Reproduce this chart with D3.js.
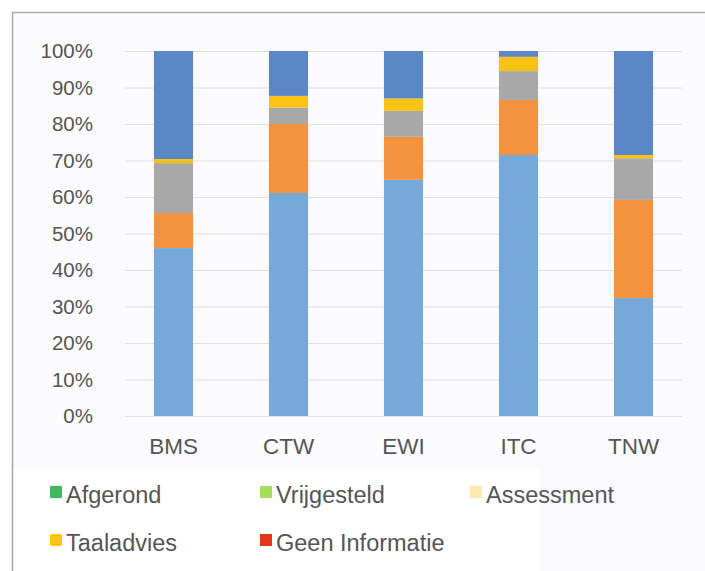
<!DOCTYPE html>
<html>
<head>
<meta charset="utf-8">
<script src="https://cdn.jsdelivr.net/npm/d3@7"></script>
<style>
  body { margin: 0; background: #fff; }
  svg text { font-family: "Liberation Sans", Arial, sans-serif; fill: #555; }
</style>
</head>
<body>
<div class="chart"></div>
<script>
// data (percent of each faculty)
var categories = ["BMS", "CTW", "EWI", "ITC", "TNW"];
var seriesNames = ["s1", "s2", "s3", "s4", "s5"];
var s1 = [46.0, 61.1, 64.7, 71.5, 32.3];
var s2 = [9.6, 18.9, 11.8, 15.1, 26.9];
var s3 = [13.7, 4.5, 7.1, 7.9, 11.4];
var s4 = [1.1, 3.2, 3.4, 3.9, 0.9];
var s5 = [29.6, 12.3, 13.0, 1.6, 28.5];
var yTicks = [0, 10, 20, 30, 40, 50, 60, 70, 80, 90, 100];
var legendNames = ["Afgerond", "Vrijgesteld", "Assessment", "Taaladvies", "Geen Informatie"];
var legendColors = ["#3dba5f", "#a8dc5c", "#fde8b0", "#fdc519", "#e2381a"];
var barColors = ["#74a9d9", "#f5923e", "#a8a8a8", "#fcc214", "#5c87c6"];

var svgWidth = 705;
var svgHeight = 571;
var margin = { top: 51, right: 23, bottom: 155, left: 125 };
var width = svgWidth - margin.left - margin.right;
var height = svgHeight - margin.top - margin.bottom;

var svg = d3.select(".chart")
  .append("svg")
  .attr("width", svgWidth)
  .attr("height", svgHeight);

// frame
svg.append("rect")
  .attr("x", 12).attr("y", 12)
  .attr("width", svgWidth - 12).attr("height", svgHeight - 12)
  .attr("fill", "#fbfbfd");
svg.append("rect")
  .attr("x", 13).attr("y", 469)
  .attr("width", 527).attr("height", svgHeight - 469)
  .attr("fill", "#ffffff");
svg.append("path")
  .attr("d", `M12.5,${svgHeight} V12.5 H${svgWidth}`)
  .attr("fill", "none")
  .attr("stroke", "#a9a9a9")
  .attr("stroke-width", 1.5);

var chartGroup = svg.append("g")
  .attr("transform", `translate(${margin.left}, ${margin.top})`);

var rows = categories.map(function(c, i) {
  return { cat: c, s1: s1[i], s2: s2[i], s3: s3[i], s4: s4[i], s5: s5[i] };
});
var stacked = d3.stack().keys(seriesNames)(rows);

var xScale = d3.scaleBand()
  .domain(categories)
  .range([-9, 566])
  .paddingInner(0.66)
  .paddingOuter(0.33);

var yScale = d3.scaleLinear()
  .domain([0, 100])
  .range([height, 0]);

// gridlines
chartGroup.append("g")
  .selectAll("line")
  .data(yTicks)
  .enter()
  .append("line")
  .attr("x1", 0).attr("x2", width)
  .attr("y1", d => yScale(d) + 0.5).attr("y2", d => yScale(d) + 0.5)
  .attr("stroke", "#e6dede")
  .attr("stroke-width", 1);

// y axis labels
var leftAxis = d3.axisLeft(yScale).tickValues(yTicks).tickFormat(d => d + "%").tickSize(0).tickPadding(32);
var yAxisG = chartGroup.append("g").call(leftAxis);
yAxisG.select(".domain").remove();
yAxisG.selectAll("text").style("font-size", "20.5px").attr("fill", "#555");

// x axis labels
var bottomAxis = d3.axisBottom(xScale).tickSize(0).tickPadding(22);
var xAxisG = chartGroup.append("g")
  .attr("transform", `translate(0, ${height})`)
  .call(bottomAxis);
xAxisG.select(".domain").remove();
xAxisG.selectAll("text").style("font-size", "22.5px").attr("fill", "#555");

// bars
chartGroup.selectAll(".layer")
  .data(stacked)
  .enter()
  .append("g")
  .attr("class", "layer")
  .attr("fill", (d, i) => barColors[i])
  .selectAll("rect")
  .data(d => d)
  .enter()
  .append("rect")
  .attr("x", d => xScale(d.data.cat))
  .attr("y", d => yScale(d[1]))
  .attr("height", d => yScale(d[0]) - yScale(d[1]))
  .attr("width", xScale.bandwidth());

// legend
var legendPos = [[50, 486], [260, 486], [470, 486], [50, 534], [260, 534]];
var legend = svg.selectAll(".legend")
  .data(legendNames)
  .enter()
  .append("g")
  .attr("class", "legend")
  .attr("transform", (d, i) => `translate(${legendPos[i][0]}, ${legendPos[i][1]})`);

legend.append("rect")
  .attr("width", 12).attr("height", 12)
  .attr("fill", (d, i) => legendColors[i]);

legend.append("text")
  .attr("x", 16)
  .attr("y", 16.5)
  .style("font-size", "23.5px")
  .attr("fill", "#444")
  .text(d => d);
</script>
</body>
</html>
